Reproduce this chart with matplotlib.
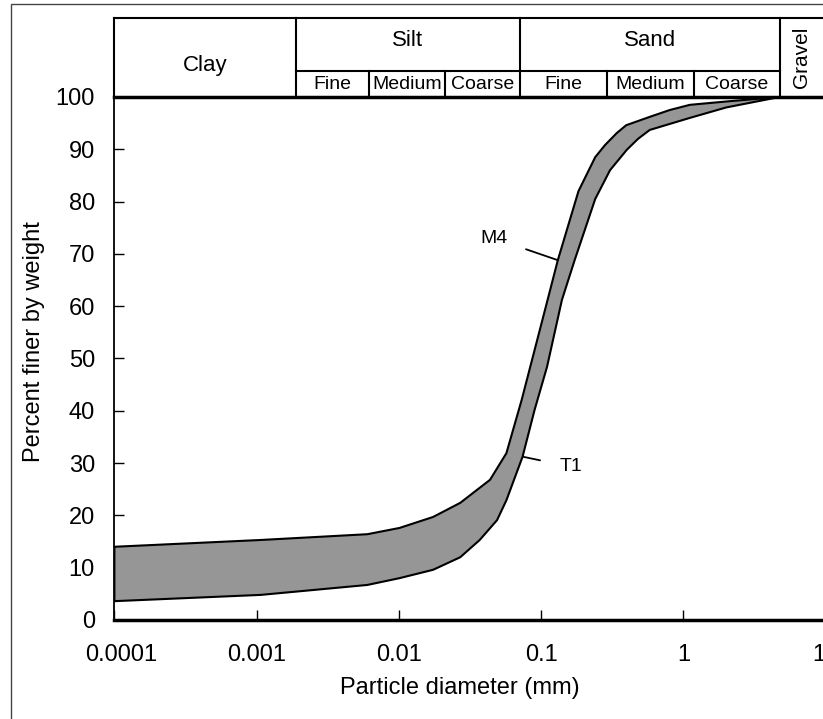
import numpy as np
import matplotlib.pyplot as plt
from matplotlib.patches import Rectangle
from matplotlib.transforms import ScaledTranslation

plt.rcParams['font.family'] = ['Liberation Sans', 'DejaVu Sans']

# -------------------------
#  データ
# -------------------------
# 上側（M4）曲線
m4_d   = [0.0001, 0.00107, 0.006, 0.0101, 0.0174, 0.027, 0.0437, 0.057,
          0.073, 0.111, 0.131, 0.183, 0.24, 0.281, 0.34, 0.396, 0.58, 0.80,
          1.11, 2.12, 4.75]
m4_pct = [14.0, 15.3, 16.4, 17.6, 19.7, 22.4, 26.8, 31.9,
          42.1, 61.2, 68.8, 82.0, 88.5, 90.8, 93.1, 94.6, 96.2, 97.5,
          98.5, 99.2, 100.0]

# 下側（T1）曲線
t1_d   = [0.0001, 0.00107, 0.006, 0.0101, 0.0174, 0.027, 0.037, 0.049,
          0.057, 0.074, 0.09, 0.11, 0.14, 0.172, 0.24, 0.305, 0.40, 0.48,
          0.58, 1.11, 2.0, 4.75]
t1_pct = [3.6, 4.8, 6.7, 8.0, 9.6, 12.0, 15.3, 19.1,
          22.9, 31.2, 40.2, 48.4, 61.2, 68.8, 80.5, 86.0, 89.9, 92.0,
          93.7, 96.0, 98.0, 100.0]

# 粒径区分の境界 [mm]
class_edges = [0.0001, 0.00189, 0.0062, 0.0211, 0.0708, 0.29, 1.19, 4.75, 10.0]
main_labels = [("Clay", 0, 1), ("Silt", 1, 4), ("Sand", 4, 7)]
sub_labels  = ["Fine", "Medium", "Coarse", "Fine", "Medium", "Coarse"]

x_ticks = [0.0001, 0.001, 0.01, 0.1, 1, 10]
x_tick_labels = ["0.0001", "0.001", "0.01", "0.1", "1", "10"]
y_ticks = list(range(0, 101, 10))

# -------------------------
#  図
# -------------------------
fig = plt.figure(figsize=(8.23, 7.19), dpi=100)
ax = fig.add_axes([0.139, 0.1377, 0.8642, 0.7274])

fig.patches.append(Rectangle((11 / 823, -0.01), 1.0, 1.01 - 4 / 719,
                             transform=fig.transFigure, fill=False,
                             edgecolor="#444444", linewidth=1.0))

poly_x = np.concatenate([m4_d, t1_d[::-1]])
poly_y = np.concatenate([m4_pct, t1_pct[::-1]])
ax.fill(poly_x, poly_y, facecolor="#969696", edgecolor="black",
        linewidth=1.5, joinstyle="round", zorder=3)

ax.set_xscale("log")
ax.set_xlim(1e-4, 10)
ax.set_ylim(0, 100)
ax.set_xticks(x_ticks)
ax.set_xticklabels(x_tick_labels)
ax.xaxis.set_minor_locator(plt.NullLocator())
ax.set_yticks(y_ticks)
ax.tick_params(direction="in", length=7, width=1, labelsize=17)
ax.tick_params(axis="x", pad=17)
ax.tick_params(axis="y", pad=14)

# 先頭ラベルは少し右へ
first = ax.get_xticklabels()[0]
first.set_transform(first.get_transform() + ScaledTranslation(5 / 72, 0, fig.dpi_scale_trans))

for side in ["top", "right"]:
    ax.spines[side].set_visible(False)
ax.spines["left"].set_linewidth(1.3)
ax.spines["bottom"].set_linewidth(2.5)

ax.set_xlabel("Particle diameter (mm)", fontsize=17)
ax.set_ylabel("Percent finer by weight", fontsize=17)
ax.xaxis.set_label_coords(0.486, -0.109)
ax.yaxis.set_label_coords(-0.0976, 0.533)

# -------------------------
#  上部の粒径区分表
# -------------------------
tr = ax.get_xaxis_transform()
y_top, y_mid, y_bot = 1.151, 1.0497, 1.0
kw = dict(transform=tr, color="black", clip_on=False)
ax.plot([class_edges[0], class_edges[-1]], [y_top, y_top], lw=1.5, **kw)
ax.plot([class_edges[0], class_edges[-1]], [y_bot, y_bot], lw=2.5, **kw)
ax.plot([class_edges[1], class_edges[7]], [y_mid, y_mid], lw=1.5, **kw)
for i, e in enumerate(class_edges[:-1]):
    if i in (0, 1, 4, 7):
        ax.plot([e, e], [y_bot, y_top], lw=1.5, **kw)
    else:
        ax.plot([e, e], [y_bot, y_mid], lw=1.5, **kw)

def gmid(a, b):
    return np.sqrt(a * b)

for name, i0, i1 in main_labels:
    xm = gmid(class_edges[i0], class_edges[i1])
    ym = 1.061 if name == "Clay" else 1.108
    ax.text(xm, ym, name, transform=tr, ha="center", va="center", fontsize=16)

for k, name in enumerate(sub_labels):
    xm = gmid(class_edges[k + 1], class_edges[k + 2])
    ax.text(xm, 1.0235, name, transform=tr,
            ha="center", va="center", fontsize=14)

ax.text(6.8, 1.0765, "Gravel", transform=tr, ha="center", va="center",
        rotation=90, fontsize=15)

# -------------------------
#  ラベル（M4, T1）
# -------------------------
ax.annotate("M4", xy=(0.131, 68.8), xytext=(0.0465, 73.0),
            fontsize=14, ha="center", va="center",
            arrowprops=dict(arrowstyle="-", color="black", lw=1.3,
                            shrinkA=12, shrinkB=0))
ax.annotate("T1", xy=(0.075, 31.2), xytext=(0.161, 29.3),
            fontsize=14, ha="center", va="center",
            arrowprops=dict(arrowstyle="-", color="black", lw=1.3,
                            shrinkA=12, shrinkB=0))

fig.savefig("out.png", dpi=100)
